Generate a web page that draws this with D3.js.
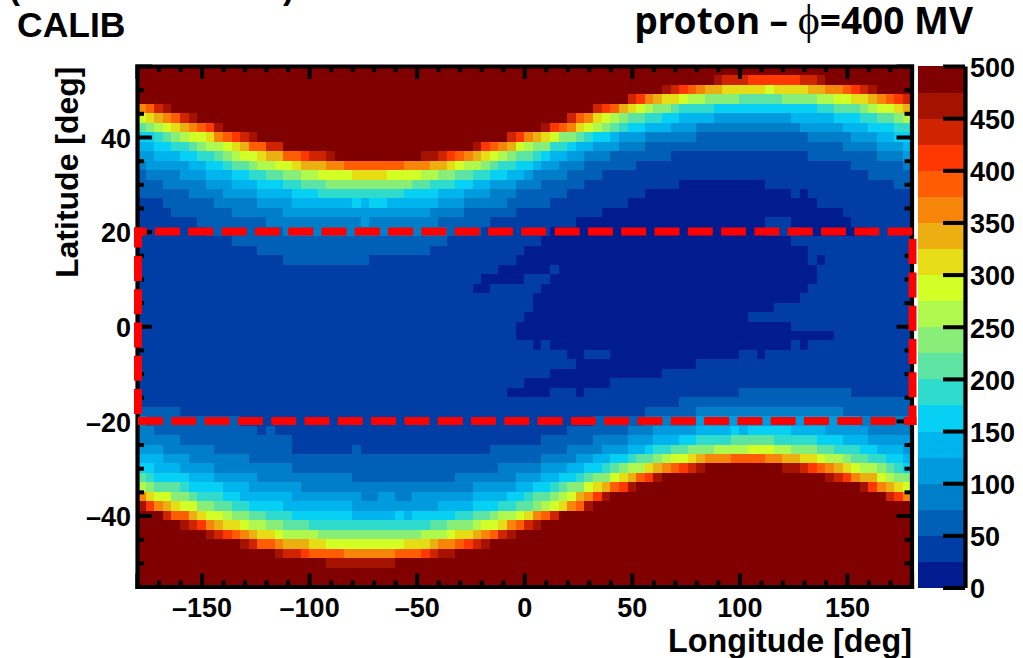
<!DOCTYPE html>
<html>
<head>
<meta charset="utf-8">
<script src="https://cdn.jsdelivr.net/npm/d3@7"></script>
<style>
  html, body { margin: 0; padding: 0; background: #fff; overflow: hidden; }
  text { font-family: "Liberation Sans", Arial, sans-serif; font-weight: bold; fill: #000; }
</style>
</head>
<body>
<div id="my_dataviz"></div>
<script>
// colour bins of the z axis, 25 wide, from 0 up to 500
var binColors = ["#001c8f", "#003ea5", "#005fb7", "#007ec8", "#009ade", "#00b4ed", "#07d0f5", "#2fdbcd", "#5de4a3", "#88ee78",
  "#aff84e", "#d2ff25", "#e6dd17", "#ebaf11", "#f68509", "#ff5d04", "#ff3700", "#d02400", "#a51200", "#800000"];

var xTicks = [-150, -100, -50, 0, 50, 100, 150];
var xMinorTicks = d3.range(-170, 180, 10).filter(function (d) { return d % 50 != 0; });
var yTicks = [-40, -20, 0, 20, 40];
var yMinorTicks = d3.range(-50, 55, 5).filter(function (d) { return d % 20 != 0; });
var zTicks = [0, 50, 100, 150, 200, 250, 300, 350, 400, 450, 500];
var regionLat = [-20, 20];
var regionLon = [-180, 180];

// 90 longitude bins of 4 deg, 55 latitude bins of 2 deg, starting at lat 55
// each row is read off the picture as pairs: bin number, last column of that run
var rowRuns = [
  [19,89],
  [19,66,18,67,17,70,16,76,17,78,18,79,19,89],
  [19,60,18,61,17,62,16,63,15,64,14,65,13,67,12,72,11,73,12,77,13,79,14,81,15,82,16,83,17,84,18,85,19,89],
  [19,56,17,57,16,58,14,59,13,60,12,62,11,63,10,65,9,69,8,74,9,78,10,80,11,82,12,84,13,85,14,86,15,87,16,88,17,89],
  [14,0,15,1,17,2,18,3,19,52,17,53,16,54,15,55,13,56,12,57,11,58,10,59,9,61,8,62,7,66,6,78,7,80,8,83,9,84,10,85,11,87,12,88,13,89],
  [11,0,12,1,13,2,14,3,15,4,17,5,18,6,19,49,17,50,15,51,14,52,12,53,11,54,10,55,9,56,8,58,7,60,6,62,5,66,4,75,5,80,6,83,7,85,8,87,9,88,10,89],
  [8,0,9,1,10,2,11,3,12,4,13,5,14,6,15,7,16,8,18,9,19,46,18,47,16,48,15,49,14,50,12,51,11,52,10,53,9,54,8,55,7,56,6,58,5,61,4,64,3,76,4,81,5,84,6,87,7,89],
  [6,1,7,2,8,3,9,4,10,5,11,7,12,8,14,9,15,10,16,11,17,12,18,13,19,42,17,43,16,44,14,45,13,46,12,47,11,48,9,50,8,51,7,52,6,54,5,55,4,58,3,64,2,77,3,82,4,85,5,87,6,89],
  [5,1,6,3,7,5,8,6,9,7,10,9,11,10,12,11,13,12,15,14,17,16,19,38,18,39,16,40,15,41,14,42,13,43,11,44,10,45,9,47,7,49,6,50,5,52,4,55,3,58,2,81,3,85,4,88,5,89],
  [4,1,5,4,6,6,7,8,8,9,9,10,10,11,11,13,12,14,13,16,15,18,16,19,17,21,18,22,19,32,18,34,17,35,16,36,15,37,14,38,13,39,12,40,11,41,10,42,9,43,8,45,7,46,6,47,5,49,4,51,3,54,2,61,1,77,2,85,3,88,4,89],
  [3,0,4,5,5,7,6,9,7,10,8,12,9,13,10,15,11,17,12,18,13,21,14,23,15,30,14,33,13,35,12,36,11,37,10,39,9,40,8,41,7,43,6,45,5,46,4,48,3,51,2,57,1,82,2,88,3,89],
  [2,0,3,4,4,7,5,10,6,12,7,14,8,16,9,18,10,20,11,24,12,28,11,32,10,34,9,36,8,38,7,40,6,42,5,44,4,45,3,49,2,53,1,84,2,89],
  [2,2,3,7,4,10,5,13,6,16,7,18,8,21,9,31,8,33,7,36,6,38,5,40,4,43,3,46,2,51,1,62,0,72,1,87,2,89],
  [2,5,3,9,4,13,5,17,6,20,7,30,6,34,5,37,4,40,3,43,2,49,1,58,0,75,1,76,0,77,1,89],
  [1,2,2,8,3,13,4,17,5,24,6,25,5,26,6,28,5,34,4,37,3,42,2,47,1,56,0,78,1,89],
  [1,3,2,10,3,16,4,33,3,37,2,43,1,53,0,81,1,89],
  [1,6,2,14,3,25,4,26,3,34,2,40,1,50,0,72,1,75,0,82,1,89],
  [1,7,2,16,3,35,2,39,1,47,0,72,1,76,0,84,1,89],
  [1,10,2,35,1,46,0,75,1,89],
  [1,13,2,33,1,44,0,77,1,89],
  [1,16,2,26,1,43,0,77,1,78,0,79,1,89],
  [1,41,0,47,1,48,0,78,1,89],
  [1,39,0,44,1,47,0,78,1,89],
  [1,38,0,40,1,46,0,77,1,89],
  [1,45,0,76,1,89],
  [1,45,0,73,1,89],
  [1,44,0,70,1,89],
  [1,43,0,75,1,89],
  [1,43,0,80,1,89],
  [1,45,0,46,1,47,0,75,1,76,0,77,1,89],
  [1,49,0,51,1,54,0,69,1,71,0,72,1,89],
  [1,50,0,64,1,89],
  [1,47,0,60,1,89],
  [1,44,0,54,1,89],
  [1,42,0,47,1,50,0,51,1,69,2,82,1,89],
  [1,62,2,89],
  [2,4,1,58,2,64,3,81,2,89],
  [3,0,2,11,1,52,2,58,3,64,4,83,3,89],
  [3,1,2,13,1,14,2,15,1,49,2,56,3,59,4,64,5,68,6,69,5,70,6,75,5,79,4,84,3,89],
  [3,4,2,17,1,46,2,52,3,56,4,59,5,62,6,64,7,68,8,73,7,78,6,81,5,84,4,89],
  [4,2,3,8,2,17,1,24,2,25,1,40,2,49,3,53,4,56,5,58,6,59,7,61,8,63,9,66,10,70,11,73,10,75,9,78,8,80,7,83,6,85,5,88,4,89],
  [5,2,4,5,3,12,2,46,3,50,4,52,5,54,6,56,7,57,8,59,9,60,10,61,11,63,12,64,13,65,14,68,15,72,14,74,13,76,12,78,11,79,10,81,9,82,8,84,7,86,6,88,5,89],
  [6,1,5,4,4,8,3,17,2,41,3,46,4,49,5,51,6,53,7,54,8,55,9,56,10,58,12,59,13,60,14,61,15,62,16,63,17,64,18,65,19,74,18,76,17,77,16,78,15,79,14,80,13,81,12,82,11,83,10,85,9,86,8,87,7,88,6,89],
  [8,0,7,1,6,5,5,8,4,13,3,24,2,36,3,43,4,46,5,48,6,50,7,51,8,52,9,54,11,55,12,56,13,57,15,58,16,59,18,60,19,79,18,80,17,81,16,82,14,83,13,85,11,86,10,87,9,89],
  [10,0,9,1,8,4,7,5,6,9,5,12,4,18,3,38,4,43,5,45,6,47,7,48,8,49,9,51,11,52,12,53,13,54,15,55,16,56,18,57,19,83,18,84,16,85,14,86,13,87,12,88,11,89],
  [14,0,12,1,11,3,9,5,8,6,7,9,6,11,5,17,4,25,3,27,4,29,3,31,4,38,5,42,6,44,7,45,8,47,9,48,10,49,11,50,13,51,14,52,16,53,18,54,19,86,17,87,16,88,14,89],
  [18,0,16,1,14,2,13,3,12,4,11,6,9,8,8,10,7,12,6,16,5,24,4,34,5,38,6,41,7,43,8,45,9,46,10,47,11,48,12,49,14,50,15,51,18,52,19,89],
  [19,2,17,3,15,5,13,6,12,7,11,9,10,10,9,12,8,14,7,17,6,24,5,29,6,30,5,31,6,36,7,38,8,40,9,41,10,43,11,44,12,45,14,46,15,47,17,48,19,89],
  [19,4,18,5,17,6,16,7,14,8,13,9,12,11,11,12,10,14,9,16,8,19,7,33,8,35,9,38,10,39,11,41,12,42,14,43,15,44,17,45,18,46,19,89],
  [19,7,18,8,17,9,16,10,15,11,14,12,13,13,12,15,11,16,10,20,9,32,10,35,11,36,12,38,13,39,14,40,15,41,17,42,18,43,19,89],
  [19,11,18,12,17,13,15,15,14,16,13,19,12,21,11,30,12,33,13,34,14,36,15,37,16,38,17,39,18,40,19,89],
  [19,15,18,16,17,18,16,19,15,23,14,29,15,32,16,33,17,34,18,36,19,89],
  [19,21,18,29,19,89],
  [19,89],
  [19,89]
];

var width = 1023, height = 658;
var margin = { top: 66, right: 111.5, bottom: 71.5, left: 137 };

var svg = d3.select("#my_dataviz")
  .append("svg")
  .attr("width", width)
  .attr("height", height)
  .style("display", "block");

var x = d3.scaleLinear().domain([-180, 180]).range([margin.left, width - margin.right]);
var y = d3.scaleLinear().domain([-55, 55]).range([height - margin.bottom, margin.top]);
var z = d3.scaleLinear().domain([0, 500]).range([587.5, 66]);
var color = d3.scaleQuantize().domain([0, 500]).range(binColors);

// unpack the runs into one record per cell
var cells = [];
rowRuns.forEach(function (runs, r) {
  var col = 0;
  for (var i = 0; i < runs.length; i += 2) {
    for (; col <= runs[i + 1]; col++) {
      cells.push({ lon: -180 + 4 * col, lat: 55 - 2 * r, value: (runs[i] + 0.5) * 25 });
    }
  }
});

svg.append("g")
  .attr("shape-rendering", "crispEdges")
  .selectAll("rect")
  .data(cells)
  .enter()
  .append("rect")
  .attr("x", function (d) { return x(d.lon); })
  .attr("y", function (d) { return y(d.lat); })
  .attr("width", x(4) - x(0) + 0.5)
  .attr("height", y(0) - y(2) + 0.5)
  .attr("fill", function (d) { return color(d.value); });

function labelFormat(d) {
  return d < 0 ? "\u2013" + (-d) : "" + d;
}

// draws one axis with thick lines, ticks turned inwards
function drawAxis(axis, tx, ty, labelled, fontSize) {
  var g = svg.append("g").attr("transform", "translate(" + tx + "," + ty + ")").call(axis);
  g.selectAll("line").attr("stroke", "#000").attr("stroke-width", 4);
  g.select(".domain").attr("stroke", labelled ? "#000" : "none").attr("stroke-width", 4.2);
  g.selectAll("text").attr("font-size", fontSize).attr("font-family", null);
  return g;
}

var xBottom = height - margin.bottom, xTop = margin.top;
var yLeft = margin.left, yRight = width - margin.right;

drawAxis(d3.axisBottom(x).tickValues(xMinorTicks).tickSize(-6).tickFormat(""), 0, xBottom, false, 0);
drawAxis(d3.axisTop(x).tickValues(xMinorTicks).tickSize(-6).tickFormat(""), 0, xTop, false, 0);
drawAxis(d3.axisTop(x).tickValues(xTicks).tickSize(-13).tickFormat(""), 0, xTop, true, 0);
drawAxis(d3.axisBottom(x).tickValues(xTicks).tickSize(-13).tickPadding(12).tickFormat(labelFormat), 0, xBottom, true, 27)
  .selectAll("text").attr("dy", "0.71em").attr("y", 11);

drawAxis(d3.axisLeft(y).tickValues(yMinorTicks).tickSize(-7).tickFormat(""), yLeft, 0, false, 0);
drawAxis(d3.axisRight(y).tickValues(yMinorTicks).tickSize(-7).tickFormat(""), yRight, 0, false, 0);
drawAxis(d3.axisRight(y).tickValues(yTicks).tickSize(-15).tickFormat(""), yRight, 0, true, 0);
drawAxis(d3.axisLeft(y).tickValues(yTicks).tickSize(-15).tickPadding(5).tickFormat(labelFormat), yLeft, 0, true, 27)
  .selectAll("text").attr("x", -6).attr("dy", "0.38em");

// colour bar
svg.append("g")
  .attr("shape-rendering", "crispEdges")
  .selectAll("rect")
  .data(binColors)
  .enter()
  .append("rect")
  .attr("x", 918)
  .attr("width", 46)
  .attr("y", function (d, i) { return z((i + 1) * 25); })
  .attr("height", z(0) - z(25) + 0.5)
  .attr("fill", function (d) { return d; });

drawAxis(d3.axisRight(z).tickValues(zTicks).tickSize(-22).tickPadding(6).tickSizeOuter(0).tickFormat(labelFormat), 965, 0, true, 27)
  .selectAll("text").attr("x", 5).attr("dy", "0.38em");

// region |lat| < 20 marked with dashes
var regionLines = [
  { x1: x(regionLon[0]) - 3, x2: x(regionLon[1]) + 1, y1: y(regionLat[1]), y2: y(regionLat[1]), offset: 12.3 },
  { x1: x(regionLon[0]) + 1, x2: x(regionLon[1]) + 5, y1: y(regionLat[0]), y2: y(regionLat[0]), offset: 0 },
  { x1: x(regionLon[0]) + 1, x2: x(regionLon[0]) + 1, y1: y(regionLat[1]) - 4, y2: y(regionLat[0]) - 4, offset: 5 },
  { x1: x(regionLon[1]) + 1, x2: x(regionLon[1]) + 1, y1: y(regionLat[1]) + 7.5, y2: y(regionLat[0]) + 4, offset: 0 }
];
svg.append("g")
  .selectAll("line")
  .data(regionLines)
  .enter()
  .append("line")
  .attr("x1", function (d) { return d.x1; })
  .attr("x2", function (d) { return d.x2; })
  .attr("y1", function (d) { return d.y1; })
  .attr("y2", function (d) { return d.y2; })
  .attr("stroke", "#ff0000")
  .attr("stroke-width", 8)
  .attr("stroke-dasharray", "25 8.3")
  .attr("stroke-dashoffset", function (d) { return d.offset; });

// axis titles and captions
svg.append("text")
  .attr("x", 912)
  .attr("y", 652)
  .attr("text-anchor", "end")
  .attr("font-size", 32.3)
  .text("Longitude [deg]");

svg.append("text")
  .attr("transform", "translate(78,278) rotate(-90)")
  .attr("font-size", 32)
  .text("Latitude [deg]");

svg.append("text").attr("x", 17).attr("y", 37).attr("font-size", 35.5).text("CALIB");
svg.append("text").attr("x", 9).attr("y", -1).attr("font-size", 33).attr("font-weight", "normal").text("(");
svg.append("text").attr("x", 283).attr("y", -1).attr("font-size", 33).attr("font-weight", "normal").text(")");

var title = svg.append("text")
  .attr("x", 973)
  .attr("y", 34)
  .attr("text-anchor", "end")
  .attr("font-size", 37)
  .style("font-family", "'Noto Sans', sans-serif");
title.append("tspan").text("proton \u2013 ");
title.append("tspan").style("font-family", "'Liberation Serif', serif").attr("font-weight", "normal").attr("font-size", 42).text("\u03d5");
title.append("tspan").text("=400 MV");
</script>
</body>
</html>
